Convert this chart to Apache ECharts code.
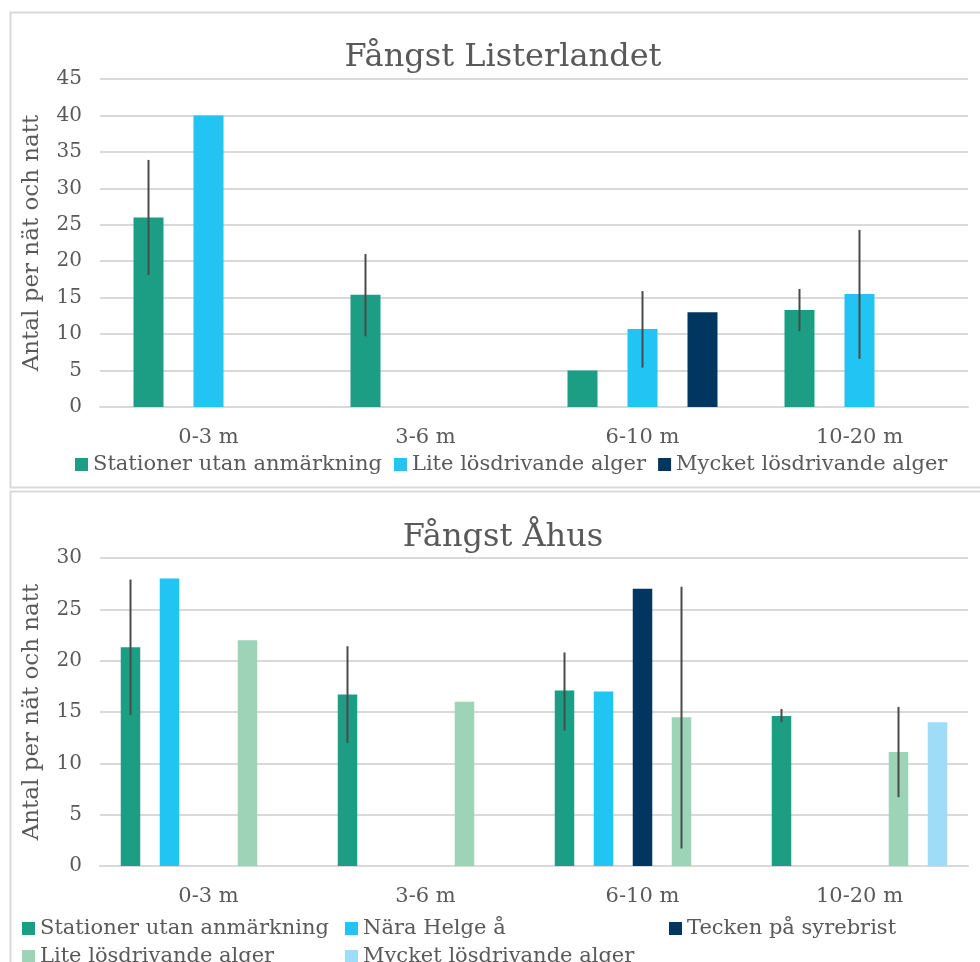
<!DOCTYPE html>
<html>
<head>
<meta charset="utf-8">
<script src="https://cdn.jsdelivr.net/npm/echarts@6/dist/echarts.min.js"></script>
<style>
  html, body { margin: 0; padding: 0; background: #fff; }
  #chart { width: 980px; height: 962px; }
</style>
</head>
<body>
<div id="chart"></div>
<script>
// categories (djupintervall)
const categories = ['0-3 m', '3-6 m', '6-10 m', '10-20 m'];

// Fångst Listerlandet
const topNames = ['Stationer utan anmärkning', 'Lite lösdrivande alger', 'Mycket lösdrivande alger'];
const topStationer = [26, 15.4, 5, 13.3];
const topLite = [40, null, 10.7, 15.5];
const topMycket = [null, null, 13, null];
const topStationerLow = [18.1, 9.7, null, 10.4];
const topStationerHigh = [33.9, 21.0, null, 16.2];
const topLiteLow = [null, null, 5.4, 6.6];
const topLiteHigh = [null, null, 15.9, 24.3];
const topTicks = { min: 0, max: 45, interval: 5 };

// Fångst Åhus
const botNames = ['Stationer utan anmärkning', 'Nära Helge å', 'Tecken på syrebrist', 'Lite lösdrivande alger', 'Mycket lösdrivande alger'];
const botStationer = [21.3, 16.7, 17.1, 14.6];
const botHelge = [28, null, 17, null];
const botSyre = [null, null, 27, null];
const botLite = [22, 16, 14.5, 11.1];
const botMycket = [null, null, null, 14];
const botStationerLow = [14.7, 12.0, 13.2, 14.0];
const botStationerHigh = [27.9, 21.4, 20.8, 15.3];
const botLiteLow = [null, null, 1.7, 6.7];
const botLiteHigh = [null, null, 27.2, 15.5];
const botTicks = { min: 0, max: 30, interval: 5 };

// färger
const cGreen = '#1b9e84';
const cBlue = '#21c4f3';
const cNavy = '#003660';
const cLightGreen = '#9dd4b8';
const cLightBlue = '#9edcf7';

const topColors = [cGreen, cBlue, cNavy];
const botColors = [cGreen, cBlue, cNavy, cLightGreen, cLightBlue];

const FONT = 'DejaVu Serif';
const TXT = '#595959';

const chart = echarts.init(document.getElementById('chart'));

// bygger en felstapel-serie (custom) som placeras vid rätt stapel
function errorSeries(gridIdx, low, high, pos, count, barW) {
  const data = categories.map((c, i) => [i, low[i], high[i]]).filter(d => d[1] != null);
  return {
    type: 'custom',
    xAxisIndex: gridIdx,
    yAxisIndex: gridIdx,
    silent: true,
    z: 10,
    data: data,
    renderItem: function (params, api) {
      const off = (pos - (count - 1) / 2) * 2 * barW;
      const p1 = api.coord([api.value(0), api.value(1)]);
      const p2 = api.coord([api.value(0), api.value(2)]);
      return {
        type: 'line',
        shape: { x1: p1[0] + off, y1: p1[1], x2: p2[0] + off, y2: p2[1] },
        style: { stroke: '#4a4a4a', lineWidth: 2 }
      };
    }
  };
}

function barSeries(name, gridIdx, data, color, barW) {
  return {
    name: name,
    type: 'bar',
    xAxisIndex: gridIdx,
    yAxisIndex: gridIdx,
    data: data,
    barWidth: barW,
    barGap: '100%',
    itemStyle: { color: color },
    emphasis: { disabled: true }
  };
}

const topW = 30;
const botW = 19.5;

const xAxisBase = {
  type: 'category',
  data: categories,
  axisTick: { show: false },
  axisLine: { lineStyle: { color: '#d9d9d9', width: 2 } },
  axisLabel: { color: TXT, fontFamily: FONT, fontSize: 21, margin: 20 }
};

const yAxisBase = {
  type: 'value',
  name: 'Antal per nät och natt',
  nameLocation: 'middle',
  nameGap: 56,
  nameTextStyle: { color: TXT, fontFamily: FONT, fontSize: 23 },
  axisLine: { show: false },
  axisTick: { show: false },
  splitLine: { lineStyle: { color: '#d9d9d9', width: 2 } },
  axisLabel: { color: TXT, fontFamily: FONT, fontSize: 20, margin: 18 }
};

const legendText = { color: TXT, fontFamily: FONT, fontSize: 21 };

// legenddata med egen färg, eftersom namnen finns i båda diagrammen
function legendAt(names, colors, left, top) {
  return {
    data: names.map((n, i) => ({ name: n, itemStyle: { color: colors[i] } })),
    left: left, top: top, itemWidth: 13, itemHeight: 13, itemGap: 12,
    icon: 'rect', textStyle: legendText, selectedMode: false
  };
}

chart.setOption({
  animation: false,
  backgroundColor: '#fff',
  graphic: [
    { type: 'rect', shape: { x: 10.5, y: 12.5, width: 980, height: 475 }, style: { fill: 'none', stroke: '#d9d9d9', lineWidth: 2 }, silent: true },
    { type: 'rect', shape: { x: 10.5, y: 491.5, width: 980, height: 480 }, style: { fill: 'none', stroke: '#d9d9d9', lineWidth: 2 }, silent: true }
  ],
  title: [
    { text: 'Fångst Listerlandet', left: 498, textAlign: 'center', top: 37,
      textStyle: { color: TXT, fontFamily: FONT, fontSize: 32, fontWeight: 'normal' } },
    { text: 'Fångst Åhus', left: 498, textAlign: 'center', top: 517,
      textStyle: { color: TXT, fontFamily: FONT, fontSize: 32, fontWeight: 'normal' } }
  ],
  legend: [
    legendAt(topNames, topColors, 70, 449),
    legendAt([botNames[0]], [botColors[0]], 17, 913),
    legendAt([botNames[1]], [botColors[1]], 340, 913),
    legendAt([botNames[2]], [botColors[2]], 664, 913),
    legendAt([botNames[3]], [botColors[3]], 17, 941),
    legendAt([botNames[4]], [botColors[4]], 340, 941)
  ],
  grid: [
    { left: 100, right: 12, top: 79, height: 328 },
    { left: 100, right: 12, top: 558, height: 308 }
  ],
  xAxis: [
    Object.assign({ gridIndex: 0 }, xAxisBase),
    Object.assign({ gridIndex: 1 }, xAxisBase)
  ],
  yAxis: [
    Object.assign({ gridIndex: 0 }, yAxisBase, topTicks),
    Object.assign({ gridIndex: 1 }, yAxisBase, botTicks)
  ],
  series: [
    barSeries(topNames[0], 0, topStationer, cGreen, topW),
    barSeries(topNames[1], 0, topLite, cBlue, topW),
    barSeries(topNames[2], 0, topMycket, cNavy, topW),
    errorSeries(0, topStationerLow, topStationerHigh, 0, 3, topW),
    errorSeries(0, topLiteLow, topLiteHigh, 1, 3, topW),

    barSeries(botNames[0], 1, botStationer, cGreen, botW),
    barSeries(botNames[1], 1, botHelge, cBlue, botW),
    barSeries(botNames[2], 1, botSyre, cNavy, botW),
    barSeries(botNames[3], 1, botLite, cLightGreen, botW),
    barSeries(botNames[4], 1, botMycket, cLightBlue, botW),
    errorSeries(1, botStationerLow, botStationerHigh, 0, 5, botW),
    errorSeries(1, botLiteLow, botLiteHigh, 3, 5, botW)
  ]
});
</script>
</body>
</html>
